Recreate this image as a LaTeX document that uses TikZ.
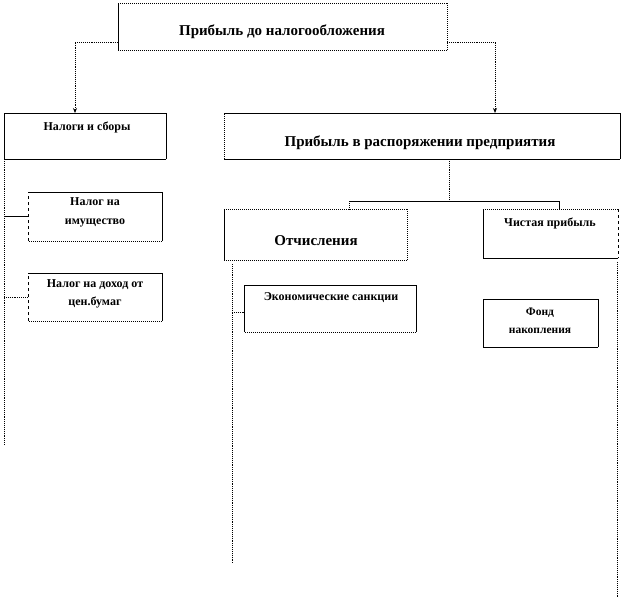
\documentclass[tikz,border=0pt]{standalone}
\usepackage{fontspec}
\setmainfont{Liberation Serif}
\usetikzlibrary{arrows.meta}
\begin{document}
\begin{tikzpicture}[x=1pt,y=-1pt,
  box/.style={draw=none,inner sep=0pt,outer sep=0pt,anchor=north west},
  sol/.style={line width=0.8pt},
  dot/.style={line width=1pt,densely dotted},
  dsh/.style={line width=0.8pt,dashed},
  lbl/.style={font=\bfseries,inner sep=0pt,align=center},
  conn/.style={line width=0.9pt,densely dotted},
  solconn/.style={line width=0.8pt},
  arr/.style={-{Stealth[length=5pt,width=4pt]}}]
\useasboundingbox (0,0) rectangle (621,598);
% boxes
\node[box,minimum width=329pt,minimum height=47pt] (top) at (118,3) {};
\node[box,minimum width=162pt,minimum height=46pt] (tax) at (4,113) {};
\node[box,minimum width=396pt,minimum height=46pt] (pr) at (224,113) {};
\node[box,minimum width=134pt,minimum height=49pt] (im) at (28,192) {};
\node[box,minimum width=134pt,minimum height=48pt] (doh) at (28,273) {};
\node[box,minimum width=183pt,minimum height=51pt] (otch) at (224,209) {};
\node[box,minimum width=135pt,minimum height=49pt] (cp) at (483,209) {};
\node[box,minimum width=172pt,minimum height=47pt] (ek) at (244,285) {};
\node[box,minimum width=115pt,minimum height=48pt] (fn) at (483,299) {};
% box edges (top, right, bottom, left)
\newcommand{\edges}[5]{%
  \draw[#2] (#1.north west) -- (#1.north east);
  \draw[#3] (#1.north east) -- (#1.south east);
  \draw[#4] (#1.south east) -- (#1.south west);
  \draw[#5] (#1.south west) -- (#1.north west);}
\edges{top}{dot}{dot}{dot}{sol}
\edges{tax}{sol}{sol}{sol}{sol}
\edges{pr}{sol}{sol}{sol}{dot}
\edges{im}{sol}{sol}{dot}{dsh}
\edges{doh}{sol}{sol}{dot}{dsh}
\edges{otch}{dot}{dot}{dot}{sol}
\edges{cp}{dot}{dsh}{sol}{sol}
\edges{ek}{sol}{sol}{dot}{sol}
\edges{fn}{sol}{sol}{sol}{sol}
% texts
\node[lbl,font=\bfseries\fontsize{15}{17}\selectfont] (ttop) at (282,32) {Прибыль до налогообложения};
\node[lbl,font=\bfseries\fontsize{12}{14}\selectfont] (ttax) at (87,127) {Налоги и сборы};
\node[lbl,font=\bfseries\fontsize{15}{17}\selectfont] (tpr) at (420,143) {Прибыль в распоряжении предприятия};
\node[lbl,font=\bfseries\fontsize{12}{19}\selectfont] (tim) at (95,212) {Налог на\\имущество};
\node[lbl,font=\bfseries\fontsize{12}{18}\selectfont] (tdoh) at (95,294) {Налог на доход от\\цен.бумаг};
\node[lbl,font=\bfseries\fontsize{15}{17}\selectfont] (totch) at (316,241) {Отчисления};
\node[lbl,font=\bfseries\fontsize{12}{14}\selectfont] (tcp) at (550,223) {Чистая прибыль};
\node[lbl,font=\bfseries\fontsize{12}{14}\selectfont] (tek) at (331,298) {Экономические санкции};
\node[lbl,font=\bfseries\fontsize{11.5}{18}\selectfont] (tfn) at (540,321) {Фонд\\накопления};
% connectors
\coordinate (tl) at (75,42);
\coordinate (tr) at (495,42);
\draw[conn,arr] (top.west |- tl) -- (tl) -- (tl |- tax.north);
\draw[conn,arr] (top.east |- tr) -- (tr) -- (tr |- pr.north);
\coordinate (bj) at (449,201);
\coordinate (bl) at (349,201);
\coordinate (br) at (559,201);
\draw[conn] (bj |- pr.south) -- (bj);
\draw[solconn] (bl) -- (br);
\draw[conn] (bl) -- (bl |- otch.north);
\draw[solconn] (br) -- (br |- cp.north);
\coordinate (l1e) at (4,445);
\draw[conn] (tax.south west) -- (l1e);
\draw[solconn] (4,216) -- (im.west |- 4,216);
\draw[conn] (4,297) -- (doh.west |- 4,297);
\coordinate (l2s) at (232,264);
\coordinate (l2e) at (232,563);
\draw[conn] (l2s) -- (l2e);
\draw[conn] (232,312) -- (ek.west |- 232,312);
\coordinate (l3s) at (617,262);
\coordinate (l3e) at (617,598);
\draw[conn] (l3s) -- (l3e);
\end{tikzpicture}
\end{document}
